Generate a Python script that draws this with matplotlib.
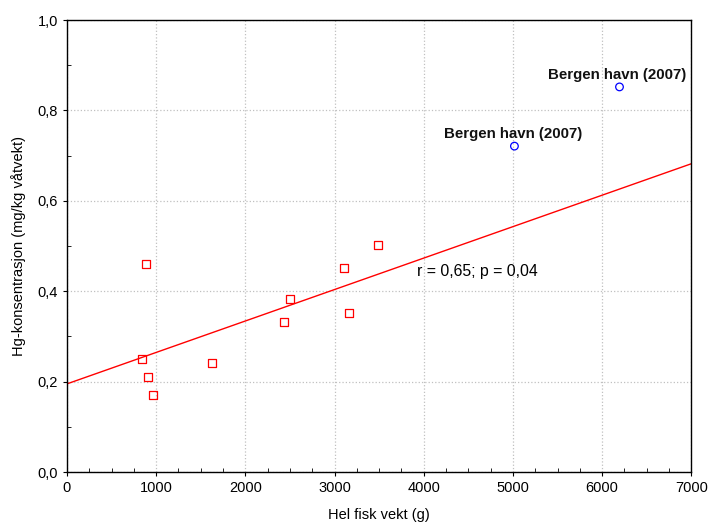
import matplotlib
matplotlib.use("Agg")
import matplotlib.pyplot as plt
from matplotlib.ticker import MultipleLocator, FuncFormatter

plt.rcParams['font.family'] = ['Liberation Sans', 'DejaVu Sans']

red_x = [887, 842, 909, 965, 1627, 2435, 2503, 3109, 3165, 3490]
red_y = [0.460, 0.250, 0.210, 0.170, 0.241, 0.332, 0.383, 0.451, 0.352, 0.502]
blue_x = [5017, 6195]
blue_y = [0.721, 0.852]
blue_labels = ["Bergen havn (2007)", "Bergen havn (2007)"]
line_x = [0, 7000]
line_y = [0.195, 0.682]
stat_text = "r = 0,65; p = 0,04"

fig = plt.figure(figsize=(7.08, 5.24), dpi=100)
ax = fig.add_axes([0.0946, 0.0992, 0.8818, 0.8626])

ax.plot(line_x, line_y, color='#ff0000', lw=1.0, zorder=2)
ax.scatter(red_x, red_y, marker='s', s=36, facecolors='none', edgecolors='#ff0000', linewidths=0.9, zorder=3)
ax.scatter(blue_x, blue_y, marker='o', s=30, facecolors='none', edgecolors='#0000ff', linewidths=0.9, zorder=3)

ax.text(blue_x[0] + 763, blue_y[0] + 0.011, blue_labels[0], ha='right', va='bottom', fontsize=10.8, fontweight='bold', color='#111111')
ax.text(blue_x[1] + 752, blue_y[1] + 0.011, blue_labels[1], ha='right', va='bottom', fontsize=10.8, fontweight='bold', color='#111111')
ax.text(3930, 0.443, stat_text, ha='left', va='center', fontsize=11.4)

ax.set_xlim(0, 7000)
ax.set_ylim(0, 1.0)
ax.xaxis.set_major_locator(MultipleLocator(1000))
ax.xaxis.set_minor_locator(MultipleLocator(250))
ax.yaxis.set_major_locator(MultipleLocator(0.2))
ax.yaxis.set_minor_locator(MultipleLocator(0.1))
ax.yaxis.set_major_formatter(FuncFormatter(lambda v, p: f"{v:.1f}".replace('.', ',')))
ax.tick_params(which='major', direction='out', length=3, labelsize=10.5, width=0.8)
ax.tick_params(which='minor', direction='in', length=3, width=0.6)
ax.grid(True, which='major', color='#c0c0c0', linestyle=':', linewidth=0.9)
ax.set_axisbelow(True)
for s in ax.spines.values():
    s.set_linewidth(1.0)

ax.set_xlabel("Hel fisk vekt (g)", fontsize=10.5, labelpad=9)
ax.set_ylabel("Hg-konsentrasjon (mg/kg våtvekt)", fontsize=10.5, labelpad=8)

fig.savefig("out.png", dpi=100)
